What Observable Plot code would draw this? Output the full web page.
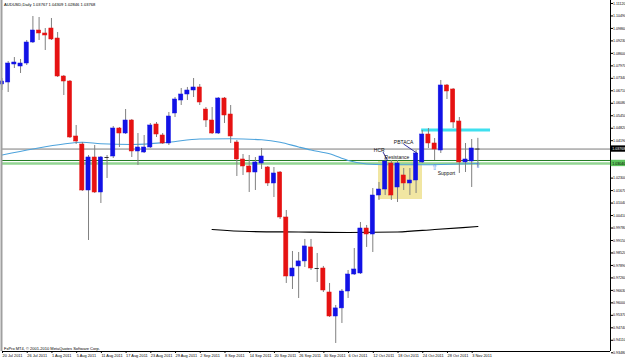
<!DOCTYPE html>
<html><head><meta charset="utf-8">
<script src="https://cdn.jsdelivr.net/npm/d3@7"></script>
<script src="https://cdn.jsdelivr.net/npm/@observablehq/plot@0.6"></script>
<style>html,body{margin:0;padding:0;background:#fff;} #chart svg{display:block}</style>
</head><body><div id="chart"></div>
<script>
const title = "AUDUSD,Daily 1.03767 1.04309 1.02846 1.03768";
const copyright = "FxPro MT4, \u00a9 2001-2010 MetaQuotes Software Corp.";

const dates = ["2011-07-20","2011-07-21","2011-07-22","2011-07-25","2011-07-26","2011-07-27","2011-07-28","2011-07-29",
"2011-08-01","2011-08-02","2011-08-03","2011-08-04","2011-08-05","2011-08-08","2011-08-09","2011-08-10","2011-08-11","2011-08-12",
"2011-08-15","2011-08-16","2011-08-17","2011-08-18","2011-08-19","2011-08-22","2011-08-23","2011-08-24","2011-08-25","2011-08-26",
"2011-08-29","2011-08-30","2011-08-31","2011-09-01","2011-09-02","2011-09-05","2011-09-06","2011-09-07","2011-09-08","2011-09-09",
"2011-09-12","2011-09-13","2011-09-14","2011-09-15","2011-09-16","2011-09-19","2011-09-20","2011-09-21","2011-09-22","2011-09-23",
"2011-09-26","2011-09-27","2011-09-28","2011-09-29","2011-09-30","2011-10-03","2011-10-04","2011-10-05","2011-10-06","2011-10-07",
"2011-10-10","2011-10-11","2011-10-12","2011-10-13","2011-10-14","2011-10-17","2011-10-18","2011-10-19","2011-10-20","2011-10-21",
"2011-10-24","2011-10-25","2011-10-26","2011-10-27","2011-10-28","2011-10-31","2011-11-01","2011-11-02","2011-11-03","2011-11-04"];

const open = [
1.07028,1.07129,1.08038,1.07937,1.08088,1.09149,1.09755,1.09604,1.09856,1.09351,
1.07432,1.07179,1.04402,1.03998,1.01675,1.03342,1.01574,1.03342,1.03392,1.04806,
1.04553,1.05210,1.03645,1.03594,1.03847,1.05008,1.04453,1.04049,1.05564,1.06220,
1.06523,1.06725,1.06877,1.05765,1.05210,1.04553,1.06321,1.05513,1.04099,1.03241,
1.02887,1.02584,1.03039,1.02837,1.02029,1.02584,1.00312,0.97332,0.97839,0.98093,
0.98799,0.97736,0.97736,0.96524,0.95312,0.95720,0.96574,0.97433,0.97484,0.99756,
0.99453,1.01422,1.01725,1.03039,1.01827,1.02433,1.02029,1.02180,1.03090,1.04503,
1.04049,1.03695,1.06978,1.06776,1.05160,1.03090,1.03140,1.03767];
const high = [
1.07331,1.08189,1.08390,1.08290,1.09250,1.10462,1.10412,1.09856,1.10361,1.09654,
1.07483,1.07230,1.04958,1.04099,1.03443,1.03948,1.03392,1.03443,1.04907,1.04857,
1.05765,1.05261,1.04553,1.04453,1.05059,1.05109,1.04553,1.05614,1.06372,1.06826,
1.06878,1.07331,1.07028,1.05867,1.05867,1.06372,1.06372,1.05968,1.04200,1.03493,
1.03443,1.03342,1.03796,1.02887,1.02837,1.02634,1.00665,0.98595,0.98544,0.99203,
0.99203,0.98494,0.97839,0.96979,0.95868,0.96676,0.97635,0.98746,1.00059,0.99908,
1.01776,1.02079,1.03291,1.03190,1.03190,1.02786,1.02786,1.03695,1.04705,1.04806,
1.04301,1.07230,1.07028,1.06826,1.05362,1.04049,1.04250,1.04309];
const low = [
1.06725,1.06624,1.07836,1.07584,1.07987,1.09099,1.09250,1.08745,1.09250,1.07382,
1.06473,1.04301,1.03998,1.01625,0.99150,1.01524,1.01019,1.02281,1.03291,1.03847,
1.04503,1.03342,1.02938,1.03544,1.03796,1.04352,1.03998,1.03948,1.05362,1.05968,
1.06220,1.06372,1.05968,1.04857,1.04503,1.04503,1.05059,1.04049,1.02382,1.02433,
1.01574,1.01675,1.02736,1.01877,1.01322,1.00211,0.96979,0.96676,0.96221,0.97787,
0.97635,0.97029,0.96524,0.95262,0.93949,0.94959,0.96221,0.97383,0.97433,0.98799,
0.98544,1.01170,1.01422,1.01170,1.01069,1.01675,1.01422,1.01524,1.03039,1.03796,
1.03190,1.03544,1.06271,1.04806,1.02534,1.02584,1.01827,1.02846];
const close = [
1.07180,1.08088,1.08139,1.08088,1.09149,1.09755,1.09604,1.09503,1.09301,1.07432,
1.07179,1.04352,1.04149,1.01675,1.03342,1.01574,1.03342,1.03342,1.04806,1.04553,
1.05210,1.03645,1.03847,1.03847,1.04958,1.04503,1.04049,1.05412,1.06271,1.06523,
1.06725,1.06877,1.06119,1.05210,1.04553,1.06321,1.05463,1.04402,1.03241,1.02887,
1.02584,1.03090,1.03392,1.02029,1.02534,1.00312,0.97332,0.97736,0.98093,0.98849,
0.97736,0.97736,0.96625,0.95312,0.95720,0.96574,0.97433,0.97686,0.99756,0.99453,
1.01422,1.01725,1.03140,1.01422,1.03039,1.02029,1.02180,1.03544,1.04503,1.04049,
1.03745,1.06978,1.06675,1.05109,1.03090,1.03241,1.03796,1.03768];

// moving averages read at selected bars
const maBlueIdx = [0,5,10,13,16,21,27,32,37,42,45,48,50,53,56,59,62,67,71,77];
const maBlueVal = [1.03468,1.03771,1.04023,1.04109,1.04033,1.03998,1.04114,1.04276,1.04286,1.04235,
                   1.04114,1.03872,1.03720,1.03528,1.03190,1.03013,1.02973,1.02973,1.02988,1.03039];
const maBlackIdx = [34,40,48,56,64,70,77];
const maBlackVal = [0.99705,0.99604,0.99579,0.99554,0.99579,0.99706,0.99857];

// axis ticks
const yTicks = [1.11120,1.10490,1.09860,1.09230,1.08600,1.07970,1.07340,1.06710,1.06080,1.05450,
1.04820,1.04190,1.03560,1.02930,1.02300,1.01670,1.01040,1.00410,0.99780,0.99150,0.98520,0.97890,
0.97260,0.96630,0.96000,0.95370,0.94740,0.94110,0.93480];
const xTickIdx = [0,4,8,12,16,20,24,28,32,36,40,44,48,52,56,60,64,68,72,76];

// drawn objects
const greenTop = 1.0319, greenBand = 1.0304;
const cyanLevel = 1.0473, cyanFrom = 67.9, cyanTo = 79.05;
const boxIdx = [60.92, 68.04], boxPrice = [1.0122, 1.0319];
const noteText = ["HCR", "PBTACA", "Resistance", "Support"];
const noteIdx = [60.16, 63.4, 61.9, 70.5];
const notePrice = [1.03695, 1.04099, 1.03342, 1.02559];
const segFromIdx = [61.65, 64.97], segFromPrice = [1.03619, 1.04023];
const segToIdx = [62.38, 67.23], segToPrice = [1.0319, 1.03544];
const arrowIdx = [70.0, 77.0], arrowPrice = [1.02837, 1.02938];

const xDom = [0.081, 98.46];
const yDom = [0.93544, 1.1127];
const bull = "#1212e6", bear = "#e61212", wick = "#808080";

const candles = dates.map((d, i) => ({i, date: d, open: open[i], high: high[i], low: low[i], close: close[i]}));
const isDoji = d => Math.abs(d.open - d.close) < 0.0002;
const ups = candles.filter(d => !isDoji(d) && d.close > d.open);
const downs = candles.filter(d => !isDoji(d) && d.close < d.open);
const dojis = candles.filter(isDoji);
const hb = 0.34;
const bid = close[close.length - 1];
const maBlue = maBlueIdx.map((i, k) => ({i, v: maBlueVal[k]}));
const maBlack = maBlackIdx.map((i, k) => ({i, v: maBlackVal[k]}));
const notes = noteText.map((t, k) => ({t, i: noteIdx[k], p: notePrice[k]}));
const segs = segFromIdx.map((a, k) => ({x1: a, y1: segFromPrice[k], x2: segToIdx[k], y2: segToPrice[k]}));
const arrows = arrowIdx.map((i, k) => ({i, p: arrowPrice[k]}));
const fmtDate = d3.utcFormat("%-d %b %Y");
const fmt5 = d3.format(".5f");
const labels = [
  {p: bid, fill: "#000", text: "#fff"},
  {p: greenBand, fill: "#5cc45c", text: "#000"}
];
// tick labels hidden behind the price boxes are not drawn
const shownTicks = yTicks.filter(t => labels.every(l => Math.abs(l.p - t) > 0.0035));

const chart = Plot.plot({
  width: 625, height: 358,
  marginLeft: 2, marginRight: 15, marginTop: 0, marginBottom: 7,
  x: {domain: xDom, axis: null},
  y: {domain: yDom, axis: null},
  style: {background: "#fff", fontFamily: "Liberation Sans, Arial, sans-serif"},
  marks: [
    Plot.rect([0], {x1: () => boxIdx[0], x2: () => boxIdx[1], y1: () => boxPrice[0], y2: () => boxPrice[1], fill: "#f1e6a2"}),
    Plot.ruleY([greenBand], {stroke: "#93d593", strokeWidth: 2.6}),
    Plot.ruleY([greenTop], {stroke: "#237a23", strokeWidth: 1}),
    Plot.ruleY([bid], {stroke: "#7a7a7a", strokeWidth: 1}),
    Plot.line(maBlack, {x: "i", y: "v", stroke: "#000", strokeWidth: 1.2, curve: "monotone-x"}),
    Plot.line(maBlue, {x: "i", y: "v", stroke: "#4da3dc", strokeWidth: 1.1, curve: "monotone-x"}),
    Plot.ruleY([cyanLevel], {x1: () => cyanFrom, x2: () => cyanTo, stroke: "#3fe0ef", strokeWidth: 3}),
    Plot.ruleX(candles, {x: "i", y1: "low", y2: "high", stroke: wick, strokeWidth: 1}),
    Plot.rect(ups, {x1: d => d.i - hb, x2: d => d.i + hb, y1: "open", y2: "close", fill: bull, stroke: bull, strokeWidth: 0.5}),
    Plot.rect(downs, {x1: d => d.i - hb, x2: d => d.i + hb, y1: "open", y2: "close", fill: bear, stroke: bear, strokeWidth: 0.5}),
    Plot.ruleY(dojis, {y: "close", x1: d => d.i - hb, x2: d => d.i + hb, stroke: "#333", strokeWidth: 1}),
    Plot.link(segs, {x1: "x1", y1: "y1", x2: "x2", y2: "y2", stroke: "#1c1c9a", strokeWidth: 0.9}),
    Plot.text(notes, {x: "i", y: "p", text: "t", textAnchor: "start", fontSize: 5, fill: "#111"}),
    Plot.text(arrows, {x: "i", y: "p", text: () => "\u21e7", fontSize: 7.5, fill: "#4d86e6", fontFamily: "DejaVu Sans"}),
    // frame
    Plot.ruleX([xDom[0]], {stroke: "#a0a0a0", strokeWidth: 2, dx: -1}),
    Plot.ruleX([xDom[1]], {stroke: "#000", strokeWidth: 1}),
    Plot.ruleY([yDom[0]], {stroke: "#000", strokeWidth: 1}),
    // axes
    Plot.axisY(shownTicks, {anchor: "right", tickFormat: fmt5, tickSize: 2, tickPadding: 0.5, fontSize: 3.6, fill: "#000"}),
    Plot.axisX(xTickIdx, {anchor: "bottom", tickFormat: i => fmtDate(new Date(dates[i])), tickSize: 2, tickPadding: 0.3, textAnchor: "start", dx: 0.5, fontSize: 3.9, fill: "#000"}),
    // price labels
    Plot.rect(labels, {x1: () => xDom[1] + 0.12, x2: () => xDom[1] + 2.7, y1: d => d.p - 0.0016, y2: d => d.p + 0.0016, fill: "fill"}),
    Plot.text(labels, {x: () => xDom[1] + 0.3, y: "p", text: d => fmt5(d.p), fill: d => d.text, textAnchor: "start", fontSize: 3.6}),
    // title and copyright
    Plot.text([title], {frameAnchor: "top-left", text: d => d, dx: 1.5, dy: 2.5, textAnchor: "start", lineAnchor: "top", fontSize: 4.1, fill: "#000"}),
    Plot.text([copyright], {frameAnchor: "bottom-left", text: d => d, dx: 1.5, dy: -1.3, textAnchor: "start", lineAnchor: "bottom", fontSize: 4, fill: "#000"})
  ]
});
document.getElementById("chart").appendChild(chart);
</script>
</body></html>
